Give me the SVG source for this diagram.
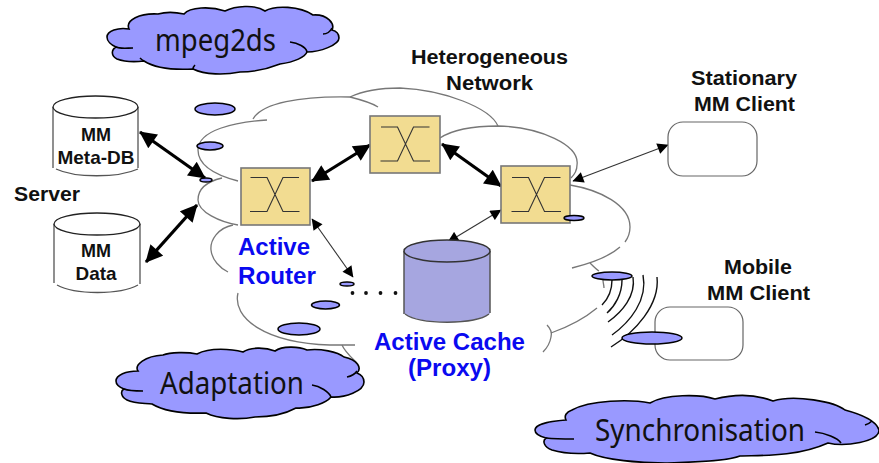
<svg xmlns="http://www.w3.org/2000/svg" width="879" height="463" viewBox="0 0 879 463">
<style>
text{font-family:"Liberation Sans",Arial,sans-serif;font-weight:700;text-anchor:middle;stroke:none}
.lb{font-size:20px;fill:#111}
.sm{font-size:19px;fill:#111}
.bl{font-size:23px;fill:#0a0af0}
.cl{font-family:"Noto Sans","DejaVu Sans",sans-serif;font-weight:400;font-size:30px;fill:#111}
.cloud{fill:#9999ff;stroke:#000;stroke-width:1.6}
.hook{fill:none;stroke:#000;stroke-width:1.6}
.net{fill:none;stroke:#777;stroke-width:1.3}
.el{fill:#9999ff;stroke:#000;stroke-width:1.5}
.cyl{fill:#fff;stroke:#555;stroke-width:1.3}
.rt{fill:#f2dc91;stroke:#777;stroke-width:1.6}
.x{fill:none;stroke:#333;stroke-width:1.1}
.thick{fill:none;stroke:#000;stroke-width:3.2}
.thin{fill:none;stroke:#333;stroke-width:1.1}
.wave{fill:none;stroke:#111;stroke-width:1.4}
.cli{fill:#fff;stroke:#666;stroke-width:1.2}
</style>
<defs>
<marker id="hb" viewBox="0 0 10 10" refX="9.5" refY="5" markerUnits="userSpaceOnUse" markerWidth="18" markerHeight="17" orient="auto-start-reverse"><path d="M0,0L10,5L0,10z" fill="#000"/></marker>
<marker id="hs" viewBox="0 0 10 10" refX="9.5" refY="5" markerUnits="userSpaceOnUse" markerWidth="13" markerHeight="11" orient="auto-start-reverse"><path d="M0,0L10,5L0,10z" fill="#000"/></marker>
<g id="xs"><path class="x" d="M-24.500,-17H-8L8,17H24.500M-25,17H-8L8,-17H24"/></g>
</defs>
<rect width="879" height="463" fill="#fff"/>

<g id="network-cloud">
<path class="net" d="M267,120C235,122 198,130 198,150C198,165 215,175 238,181"/>
<path class="net" d="M253,119C262,103 300,96 350,97C365,90 385,88 400,88C445,90 490,108 498,126"/>
<path class="net" d="M350,97C358,99 372,103 378,107"/>
<path class="net" d="M440,138C455,128 480,126 498,126C540,127 580,145 577,165C577,170 574,175 571,178"/>
<path class="net" d="M570,185C600,190 630,205 630,227C630,233 628,238 625,242"/>
<path class="net" d="M620,247C610,256 592,263 572,268"/>
<path class="net" d="M590,263C594,267 597,270 599,271M603,280C603,283 604,285 604,288"/>
<path class="net" d="M597,308C585,318 568,327 551,333M547,325C551,329 552,333 551,337C550,343 547,348 543,352"/>
<path class="net" d="M222,178C205,182 198,190 198,200C198,212 220,222 238,225"/>
<path class="net" d="M233,225C218,228 210,240 211,250C212,260 220,268 228,272"/>
<path class="net" d="M238,293C232,318 265,343 330,345H355"/>
<path class="net" d="M342,345C345,352 352,358 357,363"/>
</g>

<g id="connectors">
<path class="thick" d="M140,132L205,178" marker-start="url(#hb)" marker-end="url(#hb)"/>
<path class="thick" d="M146,262L197,205" marker-start="url(#hb)" marker-end="url(#hb)"/>
<path class="thick" d="M312,181L370,145" marker-start="url(#hb)" marker-end="url(#hb)"/>
<path class="thick" d="M442,144L501,186" marker-start="url(#hb)" marker-end="url(#hb)"/>
<path class="thin" d="M573,181L668,145" marker-start="url(#hs)" marker-end="url(#hs)"/>
<path class="thin" d="M501,210L448,242" marker-start="url(#hs)" marker-end="url(#hs)"/>
<path class="thin" d="M312,219L353,277" marker-start="url(#hs)" marker-end="url(#hs)"/>
</g>

<g id="cloud-mpeg2ds">
<path class="cloud" d="M129,29C118,27 107,31 107,37C107,41 111,45 116,47C111,50 111,56 117,59C125,62 135,62 144,61C155,68 175,70 193,69C205,75 225,75 240,72C255,72 270,68 280,64C295,62 305,57 307,52C320,52 339,45 339,38C339,34 336,31 332,30C335,24 328,14 313,15C300,6 275,5 265,11C255,4 235,6 225,11C210,6 190,7 184,14C175,12 165,12 158,14C140,13 125,20 129,29Z"/>
<path class="hook" d="M116,47C120,49 127,48 133,48M332,28C330,32 327,34 323,34M290,42C298,43 306,47 307,52M144,61C142,60 141,59 140,58M193,69C193,67 194,66 195,65"/>
<text class="cl" x="215.500" y="51" textLength="121" lengthAdjust="spacingAndGlyphs">mpeg2ds</text>
</g>

<g id="cloud-adaptation">
<path class="cloud" d="M138,371C126,371 116,375 116,381C116,384 119,387 124,389C120,391 121,397 127,400C135,404 145,403 152,404C162,410 180,414 206,413C218,419 240,420 255,417C270,417 285,414 296,408C312,409 327,402 331,397C345,398 364,391 364,382C364,378 362,375 357,373C362,368 358,360 344,357C338,352 320,348 307,350C298,346 282,346 275,351C265,347 250,347 243,352C232,349 210,347 197,354C188,352 170,352 163,355C145,356 134,365 138,371Z"/>
<path class="hook" d="M124,389C129,391 137,391 143,391M357,371C355,374 352,376 347,377M312,385C320,386 329,392 331,397"/>
<text class="cl" x="232" y="394" textLength="144" lengthAdjust="spacingAndGlyphs">Adaptation</text>
</g>

<g id="cloud-synchronisation">
<path class="cloud" d="M566,420C551,421 535,424 535,430C535,433 538,436 546,438C542,441 544,447 552,450C565,454 578,454 590,453C605,460 640,463 665,463C680,462 720,463 740,456C755,455 795,458 828,443C845,447 879,442 879,430C876,420 860,414 845,410C835,402 795,394 773,401C755,394 735,394 715,399C700,394 665,394 650,403C630,399 590,400 572,410C566,412 564,416 566,420Z"/>
<path class="hook" d="M546,438C555,439 565,439 574,439M872,421C870,423 868,424 865,425M815,432C825,433 838,438 841,443"/>
<text class="cl" x="700" y="441" textLength="210" lengthAdjust="spacingAndGlyphs">Synchronisation</text>
</g>

<g id="db-meta">
<path class="cyl" d="M53,107V168M138,107V168"/>
<path class="cyl" d="M56,169C75,178 118,178 138,169" fill="none"/>
<ellipse class="cyl" cx="95.500" cy="107" rx="42.500" ry="11" style="stroke:#222"/>
<text class="sm" x="96" y="141" textLength="30" lengthAdjust="spacingAndGlyphs">MM</text>
<text class="sm" x="96" y="164" textLength="77" lengthAdjust="spacingAndGlyphs">Meta-DB</text>
</g>

<g id="db-data">
<path class="cyl" d="M54,224V283M140,224V284" style="fill:none"/>
<path class="cyl" d="M57,285C75,295 120,295 138,285" style="fill:none"/>
<ellipse class="cyl" cx="97" cy="224" rx="43" ry="11" style="stroke:#222"/>
<text class="sm" x="96" y="257" textLength="30" lengthAdjust="spacingAndGlyphs">MM</text>
<text class="sm" x="96" y="280" textLength="41" lengthAdjust="spacingAndGlyphs">Data</text>
</g>

<text class="lb" x="47" y="201" id="label-server" textLength="66" lengthAdjust="spacingAndGlyphs">Server</text>

<g id="router-active">
<rect class="rt" x="241" y="168" width="69" height="57"/>
<use href="#xs" x="275" y="194.500"/>
</g>
<g id="router-core">
<rect class="rt" x="370" y="116" width="70" height="57"/>
<use href="#xs" x="405.500" y="144"/>
</g>
<g id="router-edge">
<rect class="rt" x="501" y="166" width="69" height="57"/>
<use href="#xs" x="536.500" y="194.500"/>
</g>

<g id="cache">
<path d="M404,251V313.500C420,325 475,325 490,313.500V251Z" fill="#a6a6e0"/>
<path d="M404,251V314M490,251V313" stroke="#555" stroke-width="1.500" fill="none"/>
<path d="M405,314C420,325 475,325 489,314" stroke="#555" stroke-width="1.300" fill="none"/>
<ellipse cx="447" cy="251" rx="43" ry="11" fill="#a6a6e0" stroke="#333" stroke-width="1.400"/>
</g>

<g id="dots" fill="#111">
<circle cx="352.500" cy="293" r="1.900"/><circle cx="366" cy="293" r="1.900"/><circle cx="380.500" cy="293" r="1.900"/><circle cx="395.500" cy="293" r="1.900"/>
</g>

<g id="client-stationary">
<rect class="cli" x="668" y="122" width="89" height="54" rx="15"/>
<text class="lb" x="744" y="84.500" textLength="106" lengthAdjust="spacingAndGlyphs">Stationary</text>
<text class="lb" x="744.500" y="110.500" textLength="101" lengthAdjust="spacingAndGlyphs">MM Client</text>
</g>
<g id="client-mobile">
<rect class="cli" x="655" y="307" width="88" height="53" rx="15"/>
<text class="lb" x="758" y="273.500" textLength="68" lengthAdjust="spacingAndGlyphs">Mobile</text>
<text class="lb" x="758.500" y="299.500" textLength="103" lengthAdjust="spacingAndGlyphs">MM Client</text>
</g>

<g id="labels">
<text class="lb" x="489.500" y="63.500" textLength="157" lengthAdjust="spacingAndGlyphs">Heterogeneous</text>
<text class="lb" x="489.500" y="89.500" textLength="87" lengthAdjust="spacingAndGlyphs">Network</text>
<text class="bl" x="274" y="255" textLength="72" lengthAdjust="spacingAndGlyphs">Active</text>
<text class="bl" x="277" y="283.500" textLength="78" lengthAdjust="spacingAndGlyphs">Router</text>
<text class="bl" x="449.500" y="349.500" textLength="151" lengthAdjust="spacingAndGlyphs">Active Cache</text>
<text class="bl" x="449.500" y="375.500" textLength="83" lengthAdjust="spacingAndGlyphs">(Proxy)</text>
</g>

<g id="waves">
<path class="wave" d="M612,280C612,290 608,299 602,305"/>
<path class="wave" d="M622,280C622,294 615,306 607,313"/>
<path class="wave" d="M633,277C636,296 622,312 608,322"/>
<path class="wave" d="M643,275C648,300 630,322 612,335"/>
<path class="wave" d="M657,277C660,305 635,332 611,347"/>
</g>

<g id="packets">
<ellipse class="el" cx="215" cy="109" rx="20" ry="6"/>
<ellipse class="el" cx="210" cy="146" rx="13" ry="4"/>
<ellipse class="el" cx="206" cy="180" rx="6" ry="2"/>
<ellipse class="el" cx="574" cy="218" rx="10" ry="2.500"/>
<ellipse class="el" cx="347" cy="284" rx="7" ry="2"/>
<ellipse class="el" cx="325.500" cy="305" rx="14" ry="4"/>
<ellipse class="el" cx="299" cy="329" rx="21" ry="6"/>
<ellipse class="el" cx="612" cy="276" rx="20" ry="4"/>
<ellipse class="el" cx="652" cy="338" rx="30" ry="6"/>
</g>
</svg>
